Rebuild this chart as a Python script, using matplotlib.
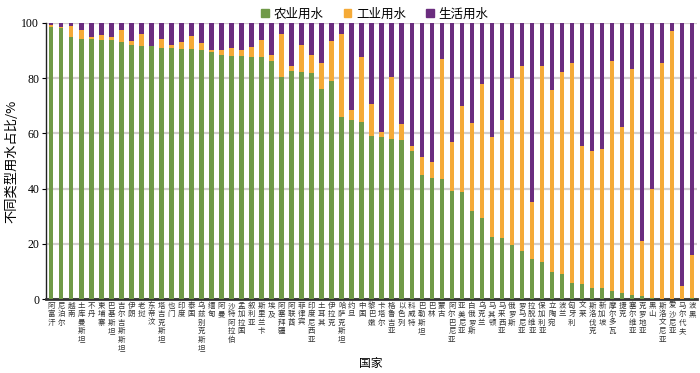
import numpy as np
import matplotlib.pyplot as plt
from matplotlib.patches import Patch

plt.rcParams['font.family'] = ['Noto Sans CJK SC', 'DejaVu Sans']
plt.rcParams['axes.unicode_minus'] = False

# 国家与三类用水占比 (%)
countries = ['阿富汗', '尼泊尔', '越南', '土库曼斯坦', '不丹', '柬埔寨', '巴基斯坦', '吉尔吉斯斯坦',
             '伊朗', '老挝', '东帝汶', '塔吉克斯坦', '也门', '印度', '泰国', '乌兹别克斯坦',
             '缅甸', '阿曼', '沙特阿拉伯', '孟加拉国', '叙利亚', '斯里兰卡', '埃及', '阿塞拜疆',
             '阿联酋', '菲律宾', '印度尼西亚', '土耳其', '伊拉克', '哈萨克斯坦', '约旦', '中国',
             '黎巴嫩', '卡塔尔', '格鲁吉亚', '以色列', '科威特', '巴勒斯坦', '巴林', '蒙古',
             '阿尔巴尼亚', '亚美尼亚', '白俄罗斯', '乌克兰', '马其顿', '马来西亚', '俄罗斯', '罗马尼亚',
             '拉脱维亚', '保加利亚', '立陶宛', '波兰', '匈牙利', '文莱', '斯洛伐克', '新加坡',
             '摩尔多瓦', '捷克', '塞尔维亚', '克罗地亚', '黑山', '斯洛文尼亚', '爱沙尼亚', '马尔代夫',
             '波黑']

agri = [98.6, 98.1, 94.8, 94.2, 94.2, 93.8, 93.8, 93.0, 92.1, 91.5, 91.5, 90.9, 90.8, 90.6, 90.6, 90.0,
        89.4, 88.5, 87.9, 87.9, 87.5, 87.5, 86.1, 80.3, 82.7, 82.1, 81.7, 75.9, 78.8, 65.8, 64.8, 64.2,
        59.1, 58.5, 57.9, 57.6, 53.7, 45.0, 44.0, 43.5, 39.2, 38.8, 31.9, 29.5, 22.4, 22.0, 19.6, 17.4,
        14.4, 13.5, 10.0, 9.0, 6.0, 5.3, 3.9, 3.9, 3.0, 2.4, 1.6, 1.0, 0.5, 0.0, 0.0, 0.0,
        0.5]
indu = [0.5, 0.5, 3.9, 3.0, 0.6, 1.9, 1.0, 4.2, 1.2, 4.5, 0.2, 3.3, 1.3, 2.4, 4.6, 2.8,
        0.7, 1.6, 3.0, 2.2, 3.8, 6.3, 2.4, 15.5, 1.8, 10.0, 6.8, 9.7, 14.5, 30.0, 3.8, 23.3,
        11.5, 2.1, 22.4, 5.8, 1.8, 6.6, 5.8, 43.4, 17.8, 31.2, 31.8, 48.4, 36.1, 42.8, 60.3, 67.1,
        20.8, 70.7, 65.8, 73.1, 79.5, 50.2, 49.8, 50.6, 83.0, 60.0, 81.5, 19.9, 39.3, 85.5, 96.9, 4.9,
        15.5]
dom = [0.9, 1.4, 1.3, 2.8, 5.2, 4.3, 5.2, 2.8, 6.7, 4.0, 8.3, 5.8, 7.9, 7.0, 4.8, 7.2,
       9.9, 9.9, 9.1, 9.9, 8.7, 6.2, 11.5, 4.2, 15.5, 7.9, 11.5, 14.4, 6.7, 4.2, 31.4, 12.5,
       29.4, 39.4, 19.7, 36.6, 44.5, 48.4, 50.2, 13.1, 43.0, 30.0, 36.3, 22.1, 41.5, 35.2, 20.1, 15.5,
       64.8, 15.8, 24.2, 17.9, 14.5, 44.5, 46.3, 45.5, 14.0, 37.6, 16.9, 79.1, 60.2, 14.5, 3.1, 95.1,
       84.0]

c_agri, c_indu, c_dom = '#709a48', '#f5aa37', '#6b2d7f'

fig = plt.figure(figsize=(7, 3.73), dpi=100)
ax = fig.add_axes([0.066, 0.198, 0.930, 0.741])

x = np.arange(len(countries))
a = np.array(agri)
b = np.array(indu)
c = np.array(dom)
w = 0.45
ax.bar(x, a, width=w, color=c_agri, zorder=3)
ax.bar(x, b, width=w, bottom=a, color=c_indu, zorder=3)
ax.bar(x, c, width=w, bottom=a + b, color=c_dom, zorder=3)

ax.set_xlim(-0.5, len(countries) - 0.5)
ax.set_ylim(0, 100)
ax.set_yticks([0, 20, 40, 60, 80, 100])
ax.yaxis.grid(True, color='#d3cfcf', linewidth=1.6, zorder=0)
ax.set_axisbelow(True)

# 竖排国家名：逐字放置
ax.set_xticks(x)
ax.set_xticklabels([])
ax.tick_params(axis='x', length=0)
pitch = 6.1  # 行距 (pt)
for i, name in enumerate(countries):
    for k, ch in enumerate(name):
        ax.annotate(ch, xy=(i, 0), xycoords=('data', 'axes fraction'),
                    xytext=(0, -1.8 - k * pitch), textcoords='offset points',
                    ha='center', va='top', fontsize=5.4, color='#333333',
                    annotation_clip=False)

ax.tick_params(axis='y', length=3, width=0.8, labelsize=8.5, pad=2)
for t in ax.get_yticklabels():
    t.set_family(['Liberation Serif', 'DejaVu Serif'])

for s in ['top', 'right']:
    ax.spines[s].set_visible(False)
ax.spines['left'].set_color('#222222')
ax.spines['left'].set_linewidth(1.0)
ax.spines['bottom'].set_color('#333333')
ax.spines['bottom'].set_linewidth(2.0)

ax.set_ylabel('不同类型用水占比/%', fontsize=9.5, labelpad=2)
fig.text(0.53, 0.026, '国家', fontsize=8.5, ha='center', va='center')

handles = [Patch(color=c_agri, label='农业用水'),
           Patch(color=c_indu, label='工业用水'),
           Patch(color=c_dom, label='生活用水')]
ax.legend(handles=handles, loc='lower center', bbox_to_anchor=(0.505, 0.99), ncol=3,
          frameon=False, fontsize=9, handlelength=0.6, handleheight=0.6,
          handletextpad=0.4, columnspacing=1.6, borderaxespad=0)

plt.savefig('out.png', dpi=100)
